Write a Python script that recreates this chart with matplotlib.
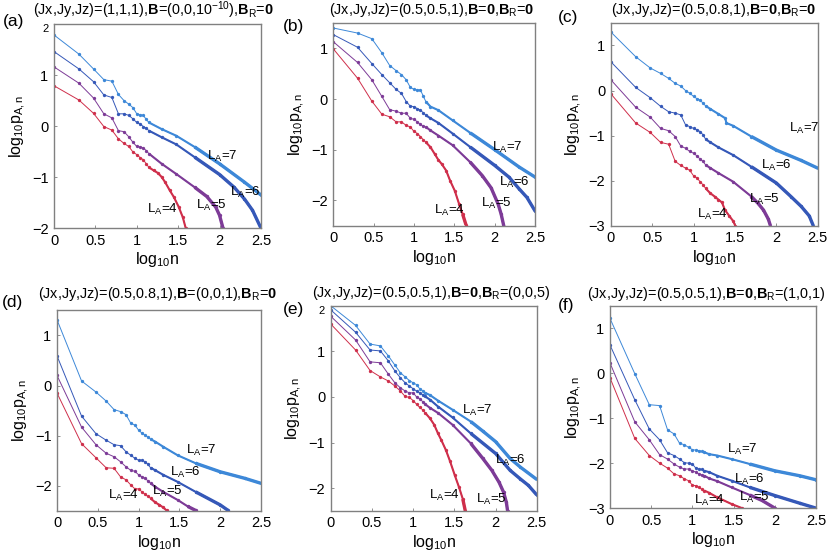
import numpy as np
import matplotlib
matplotlib.use("Agg")
import matplotlib.pyplot as plt

plt.rcParams["font.family"] = ["Liberation Sans", "DejaVu Sans"]
plt.rcParams["mathtext.fontset"] = "custom"
plt.rcParams["mathtext.rm"] = "Liberation Sans"
plt.rcParams["mathtext.it"] = "Liberation Sans:italic"
plt.rcParams["mathtext.bf"] = "Liberation Sans:bold"

# ---- données : n (entier) et log10 p_{A,n} ----
N_HEAD = list(range(1, 15))

# (a) (Jx,Jy,Jz)=(1,1,1), B=(0,0,1e-10), BR=0
a_n7 = N_HEAD + [20, 30, 50, 100, 200, 316]
a_y7 = [1.785, 1.41, 1.12, 0.91, 0.88, 0.62, 0.50, 0.43, 0.36, 0.24, 0.22, 0.21, 0.13, 0.07,
        -0.06, -0.19, -0.41, -0.74, -1.10, -1.35]
a_n6 = N_HEAD + [20, 30, 50, 100, 150, 200, 250, 316]
a_y6 = [1.46, 1.12, 0.87, 0.61, 0.56, 0.24, 0.24, 0.21, 0.14, 0.07, 0.04, -0.01, -0.04, -0.09,
        -0.22, -0.36, -0.61, -0.95, -1.20, -1.43, -1.65, -2.0]
a_n5 = N_HEAD + [20, 30, 50, 70, 90, 100, 110]
a_y5 = [1.16, 0.84, 0.55, 0.24, 0.16, -0.09, -0.11, -0.21, -0.32, -0.40, -0.41, -0.43, -0.48, -0.54,
        -0.74, -0.94, -1.20, -1.38, -1.59, -1.75, -2.0]
a_n4 = N_HEAD + [16, 18, 20, 22, 25, 28, 32, 36, 39]
a_y4 = [0.79, 0.51, 0.25, -0.01, -0.08, -0.25, -0.34, -0.40, -0.51, -0.56, -0.62, -0.66, -0.74, -0.81,
        -0.87, -0.92, -1.00, -1.10, -1.26, -1.39, -1.58, -1.79, -2.0]

# (b) (0.5,0.5,1), B=0, BR=0
b_n7 = N_HEAD + [16, 20, 30, 50, 100, 200, 316]
b_y7 = [1.40, 1.30, 1.19, 0.91, 0.66, 0.56, 0.48, 0.38, 0.23, 0.19, 0.18, 0.18, 0.06, -0.05,
        -0.15, -0.22, -0.42, -0.67, -1.00, -1.34, -1.54]
b_n6 = N_HEAD + [16, 20, 30, 50, 100, 150, 200, 250, 316]
b_y6 = [1.27, 1.02, 0.70, 0.48, 0.32, 0.19, 0.11, -0.05, -0.14, -0.15, -0.19, -0.22, -0.27, -0.32,
        -0.38, -0.47, -0.68, -0.95, -1.31, -1.54, -1.77, -1.94, -2.21]
b_n5 = N_HEAD + [16, 20, 30, 50, 70, 90, 110, 120, 130]
b_y5 = [1.13, 0.72, 0.38, 0.05, -0.21, -0.24, -0.28, -0.28, -0.38, -0.40, -0.45, -0.50, -0.54, -0.55,
        -0.62, -0.72, -0.91, -1.25, -1.51, -1.75, -2.07, -2.27, -2.52]
b_n4 = N_HEAD + [16, 18, 20, 22, 25, 28, 32, 36, 40, 44]
b_y4 = [0.99, 0.41, -0.04, -0.30, -0.35, -0.45, -0.45, -0.52, -0.55, -0.64, -0.68, -0.74, -0.80, -0.85,
        -0.95, -1.08, -1.20, -1.28, -1.41, -1.61, -1.81, -2.06, -2.27, -2.48]

# (c) (0.5,0.8,1), B=0, BR=0
c_n7 = N_HEAD + [16, 20, 24, 25, 30, 50, 100, 200, 316]
c_y7 = [1.30, 0.75, 0.50, 0.38, 0.27, 0.16, 0.10, 0.0, -0.06, -0.13, -0.18, -0.21, -0.28, -0.34,
        -0.41, -0.52, -0.61, -0.72, -0.78, -1.02, -1.32, -1.55, -1.72]
c_n6 = N_HEAD + [16, 20, 30, 50, 100, 150, 200, 250, 280]
c_y6 = [0.64, 0.07, -0.16, -0.35, -0.47, -0.50, -0.54, -0.76, -0.80, -0.84, -0.87, -0.91, -0.98, -1.08,
        -1.15, -1.26, -1.43, -1.69, -2.05, -2.35, -2.57, -2.78, -3.0]
c_n5 = N_HEAD + [16, 20, 30, 50, 60, 70, 80, 85]
c_y5 = [0.24, -0.37, -0.59, -0.84, -0.89, -1.02, -1.23, -1.28, -1.35, -1.39, -1.45, -1.52, -1.57, -1.65,
        -1.72, -1.83, -2.02, -2.35, -2.50, -2.65, -2.85, -3.0]
c_n4 = N_HEAD + [16, 18, 20, 22, 24, 27, 30, 32]
c_y4 = [-0.07, -0.72, -0.93, -1.15, -1.19, -1.57, -1.66, -1.72, -1.77, -1.89, -1.94, -2.02, -2.09, -2.17,
        -2.28, -2.35, -2.42, -2.48, -2.65, -2.78, -2.89, -3.0]

# (d) (0.5,0.8,1), B=(0,0,1), BR=0
d_n7 = N_HEAD + [16, 20, 30, 50, 100, 200, 316]
d_y7 = [1.31, 0.09, -0.13, -0.31, -0.48, -0.52, -0.58, -0.75, -0.79, -0.89, -0.95, -0.99, -1.03, -1.07,
        -1.12, -1.22, -1.39, -1.55, -1.72, -1.85, -1.95]
d_n6 = N_HEAD + [16, 20, 30, 50, 100, 125]
d_y6 = [0.59, -0.61, -0.96, -1.09, -1.18, -1.20, -1.32, -1.39, -1.45, -1.49, -1.49, -1.52, -1.57, -1.64,
        -1.69, -1.78, -1.92, -2.12, -2.38, -2.49]
d_n5 = N_HEAD + [16, 20, 30, 40, 50]
d_y5 = [0.20, -0.83, -1.18, -1.35, -1.42, -1.52, -1.62, -1.69, -1.71, -1.78, -1.82, -1.85, -1.90, -1.95,
        -2.02, -2.12, -2.28, -2.41, -2.49]
d_n4 = N_HEAD + [16, 18, 20, 22]
d_y4 = [-0.15, -1.16, -1.44, -1.64, -1.65, -1.82, -1.88, -1.98, -2.06, -2.06, -2.12, -2.17, -2.21, -2.25,
        -2.33, -2.38, -2.43, -2.49]

# (e) (0.5,0.5,1), B=0, BR=(0,0,5)
e_n7 = N_HEAD + [16, 20, 30, 50, 70, 100, 150, 200, 316]
e_y7 = [2.0, 1.57, 1.16, 1.12, 0.90, 0.70, 0.53, 0.44, 0.36, 0.31, 0.27, 0.18, 0.14, 0.09,
        0.04, -0.08, -0.28, -0.54, -0.75, -0.98, -1.35, -1.54, -1.81]
e_n6 = N_HEAD + [16, 20, 30, 50, 100, 150, 200, 250, 316]
e_y6 = [1.91, 1.42, 1.03, 1.01, 0.79, 0.57, 0.42, 0.31, 0.24, 0.18, 0.13, 0.09, 0.05, 0.01,
        -0.06, -0.21, -0.45, -0.80, -1.24, -1.61, -1.80, -1.94, -2.15]
e_n5 = N_HEAD + [16, 20, 30, 50, 70, 90, 110, 125, 135, 140]
e_y5 = [1.77, 1.25, 0.77, 0.75, 0.50, 0.31, 0.20, 0.13, 0.09, 0.09, 0.0, -0.04, -0.10, -0.16,
        -0.24, -0.35, -0.61, -1.02, -1.35, -1.61, -1.87, -2.09, -2.31, -2.51]
e_n4 = N_HEAD + [16, 18, 20, 22, 25, 28, 32, 36, 40, 43]
e_y4 = [1.60, 1.03, 0.58, 0.44, 0.35, 0.24, 0.13, 0.01, -0.01, -0.08, -0.16, -0.23, -0.28, -0.35,
        -0.47, -0.61, -0.80, -0.95, -1.17, -1.41, -1.72, -1.98, -2.24, -2.51]

# (f) (0.5,0.5,1), B=0, BR=(1,0,1)
f_n7 = N_HEAD + [16, 20, 30, 50, 100, 200, 316]
f_y7 = [1.22, -0.01, -0.70, -0.72, -1.26, -1.35, -1.56, -1.59, -1.65, -1.70, -1.71, -1.72, -1.74, -1.76,
        -1.80, -1.83, -1.91, -2.02, -2.17, -2.28, -2.37]
f_n6 = N_HEAD + [16, 20, 30, 50, 100, 200, 316]
f_y6 = [0.63, -0.59, -1.24, -1.48, -1.77, -1.83, -1.91, -1.99, -2.00, -2.02, -2.11, -2.13, -2.14, -2.17,
        -2.20, -2.28, -2.39, -2.54, -2.72, -2.89, -3.0]
f_n5 = N_HEAD + [16, 20, 30, 50, 70, 100]
f_y5 = [0.23, -1.08, -1.48, -1.81, -1.91, -2.02, -2.09, -2.13, -2.13, -2.17, -2.20, -2.24, -2.26, -2.28,
        -2.34, -2.40, -2.54, -2.71, -2.83, -3.0]
f_n4 = N_HEAD + [16, 20, 30, 40]
f_y4 = [-0.10, -1.45, -1.83, -2.00, -2.11, -2.24, -2.28, -2.35, -2.39, -2.49, -2.50, -2.54, -2.58, -2.61,
        -2.66, -2.76, -2.91, -3.0]

TITLES = [
    r"(Jx,Jy,Jz)=(1,1,1),$\mathbf{B}$=(0,0,10$^{-10}$),$\mathbf{B}_\mathrm{R}$=$\mathbf{0}$",
    r"(Jx,Jy,Jz)=(0.5,0.5,1),$\mathbf{B}$=$\mathbf{0}$,$\mathbf{B}_\mathrm{R}$=$\mathbf{0}$",
    r"(Jx,Jy,Jz)=(0.5,0.8,1),$\mathbf{B}$=$\mathbf{0}$,$\mathbf{B}_\mathrm{R}$=$\mathbf{0}$",
    r"(Jx,Jy,Jz)=(0.5,0.8,1),$\mathbf{B}$=(0,0,1),$\mathbf{B}_\mathrm{R}$=$\mathbf{0}$",
    r"(Jx,Jy,Jz)=(0.5,0.5,1),$\mathbf{B}$=$\mathbf{0}$,$\mathbf{B}_\mathrm{R}$=(0,0,5)",
    r"(Jx,Jy,Jz)=(0.5,0.5,1),$\mathbf{B}$=$\mathbf{0}$,$\mathbf{B}_\mathrm{R}$=(1,0,1)",
]
PANEL_TAGS = ["(a)", "(b)", "(c)", "(d)", "(e)", "(f)"]
L_SIZES = [4, 5, 6, 7]
YLIMS = [(-2, 2), (-2.5, 1.5), (-3, 1.5), (-2.5, 1.5), (-2.5, 2), (-3, 1.5)]
YTICKS = [[-2, -1, 0, 1, 2], [-2, -1, 0, 1], [-3, -2, -1, 0, 1],
          [-2, -1, 0, 1], [-2, -1, 0, 1, 2], [-3, -2, -1, 0, 1]]

PANELS = [
    [(a_n4, a_y4), (a_n5, a_y5), (a_n6, a_y6), (a_n7, a_y7)],
    [(b_n4, b_y4), (b_n5, b_y5), (b_n6, b_y6), (b_n7, b_y7)],
    [(c_n4, c_y4), (c_n5, c_y5), (c_n6, c_y6), (c_n7, c_y7)],
    [(d_n4, d_y4), (d_n5, d_y5), (d_n6, d_y6), (d_n7, d_y7)],
    [(e_n4, e_y4), (e_n5, e_y5), (e_n6, e_y6), (e_n7, e_y7)],
    [(f_n4, f_y4), (f_n5, f_y5), (f_n6, f_y6), (f_n7, f_y7)],
]

# positions des étiquettes L_A (coordonnées données), ordre L_A = 4,5,6,7
LABEL_POS = [
    [(1.12, -1.64), (1.71, -1.56), (2.13, -1.31), (1.85, -0.60)],
    [(1.25, -2.19), (1.83, -2.06), (2.05, -1.64), (1.96, -0.95)],
    [(1.04, -2.74), (1.67, -2.42), (1.81, -1.66), (2.15, -0.84)],
    [(0.63, -2.20), (1.17, -2.12), (1.38, -1.74), (1.58, -1.29)],
    [(1.19, -2.17), (1.76, -2.24), (1.99, -1.39), (1.59, -0.30)],
    [(1.02, -2.83), (1.56, -2.76), (1.51, -2.37), (1.42, -1.70)],
]

COLORS = ["#cf2f4b", "#7d3b97", "#3558b8", "#3d88d8"]

AX_RECTS = [
    (0.065, 0.592, 0.249, 0.365),
    (0.401, 0.596, 0.243, 0.363),
    (0.735, 0.596, 0.249, 0.363),
    (0.0686, 0.086, 0.2455, 0.359),
    (0.398, 0.086, 0.248, 0.367),
    (0.734, 0.091, 0.248, 0.362),
]
TITLE_POS = [(0.185, 0.981), (0.519, 0.982), (0.859, 0.982),
             (0.189, 0.474), (0.519, 0.476), (0.850, 0.474)]
TAG_POS = [(0.004, 0.961), (0.340, 0.953), (0.671, 0.969),
           (0.002, 0.459), (0.340, 0.447), (0.671, 0.453)]

fig = plt.figure(figsize=(8.31, 5.59), dpi=100)

for k in range(6):
    ax = fig.add_axes(AX_RECTS[k])
    for (ns, ys), col, L, (lx, ly) in zip(PANELS[k], COLORS, L_SIZES, LABEL_POS[k]):
        x = np.log10(np.array(ns, dtype=float))
        y = np.array(ys)
        ax.plot(x, y, "-", color=col, lw=0.7, marker="o", ms=2.4, mew=0)
        # les points deviennent denses : on épaissit progressivement la courbe
        mid = np.array(ns) >= 14
        ax.plot(x[mid], y[mid], "-", color=col, lw=1.5, solid_capstyle="butt")
        thick = np.array(ns) >= 40
        ax.plot(x[thick], y[thick], "-", color=col, lw=2.4, solid_capstyle="butt")
        ax.text(lx, ly, r"L$_\mathrm{A}$=%d" % L, fontsize=9.5, ha="left", va="center")
    ax.set_xlim(0, 2.5)
    ax.set_ylim(*YLIMS[k])
    ax.set_xticks([0, 0.5, 1, 1.5, 2, 2.5])
    ax.set_xticklabels(["0", "0.5", "1", "1.5", "2", "2.5"])
    ax.set_yticks(YTICKS[k])
    ax.tick_params(direction="in", length=2.5, width=0.6, labelsize=10.5, color="#808080", pad=4)
    if YTICKS[k][-1] == YLIMS[k][1]:
        # le « 2 » tout en haut est plus petit sur l'original (collé au titre)
        top = ax.get_yticklabels()[-1]
        top.set_fontsize(8)
        top.set_verticalalignment("top")
    for sp in ax.spines.values():
        sp.set_color("#808080")
        sp.set_linewidth(1.0)
    ax.set_xlabel(r"log$_{10}$n", fontsize=11.5, labelpad=2)
    ax.set_ylabel(r"log$_{10}$p$_{\mathrm{A,n}}$", fontsize=11.5, labelpad=3)
    fig.text(TITLE_POS[k][0], TITLE_POS[k][1], TITLES[k], fontsize=10.4,
             ha="center", va="center")
    fig.text(TAG_POS[k][0], TAG_POS[k][1], PANEL_TAGS[k], fontsize=12.5, ha="left", va="center")

fig.savefig("out.png", dpi=100)
